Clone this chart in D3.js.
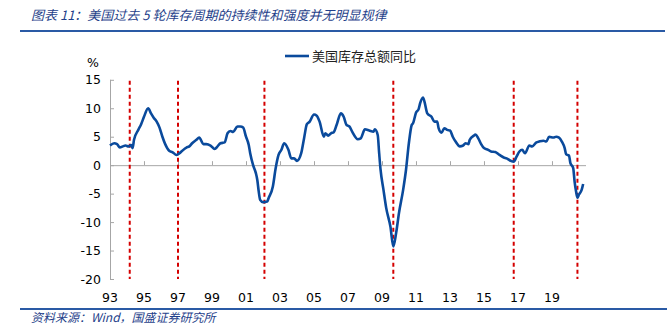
<!DOCTYPE html>
<html><head><meta charset="utf-8">
<script src="https://cdn.jsdelivr.net/npm/d3@7"></script>
<style>
html,body{margin:0;padding:0;background:#fff;}
svg{display:block;}
</style></head>
<body>
<svg id="c" width="671" height="331"></svg>
<script>
const titleText = "图表 11：美国过去 5 轮库存周期的持续性和强度并无明显规律";
const sourceText = "资料来源：Wind，国盛证券研究所";
const seriesName = "美国库存总额同比";
const yTicks = [15, 10, 5, 0, -5, -10, -15, -20];
const xTickYears = [1993, 1995, 1997, 1999, 2001, 2003, 2005, 2007, 2009, 2011, 2013, 2015, 2017, 2019];
const xTickLabels = ["93","95","97","99","01","03","05","07","09","11","13","15","17","19"];
const cycleMarks = ["1994-03","1997-01","2002-02","2009-09","2016-10","2020-07"];
const dates = [
"1993-01","1993-04","1993-06","1993-08","1993-10","1993-12","1994-02","1994-04","1994-05","1994-06","1994-09","1994-11",
"1995-01","1995-04","1995-06","1995-08","1995-10","1995-12","1996-02","1996-04","1996-07","1996-09","1996-12",
"1997-03","1997-07","1997-09","1997-11","1998-02","1998-04","1998-07","1998-09","1998-12",
"1999-03","1999-05","1999-07","1999-10","1999-12","2000-02","2000-04","2000-07","2000-09","2000-11",
"2001-01","2001-03","2001-04","2001-06","2001-08","2001-09","2001-10","2001-11","2002-01","2002-04","2002-05","2002-08","2002-10","2002-12",
"2003-02","2003-04","2003-07","2003-09","2003-11","2004-01","2004-04","2004-06","2004-08","2004-10",
"2005-01","2005-03","2005-05","2005-08","2005-09","2005-11","2006-01","2006-03","2006-05","2006-08","2006-10","2006-12",
"2007-02","2007-04","2007-08","2007-10","2008-01","2008-04","2008-07","2008-08","2008-10","2008-11","2008-12",
"2009-02","2009-04","2009-07","2009-09","2009-11","2010-01","2010-04","2010-06","2010-08","2010-10","2010-11",
"2011-01","2011-03","2011-04","2011-06","2011-07","2011-09","2011-12","2012-02","2012-04","2012-05","2012-07","2012-09","2012-11",
"2013-01","2013-03","2013-05","2013-08","2013-10","2013-12","2014-02","2014-03","2014-06","2014-07","2014-09","2014-11",
"2015-01","2015-04","2015-06","2015-09","2015-12","2016-03","2016-05","2016-08","2016-10","2016-12",
"2017-02","2017-04","2017-06","2017-09","2017-11","2018-02","2018-04","2018-07","2018-09","2018-11",
"2019-02","2019-04","2019-06","2019-08","2019-10","2019-11","2020-01","2020-02","2020-04","2020-05","2020-06","2020-07","2020-08","2020-10","2020-11"
];
const values = [
3.45,3.85,3.7,3.1,3.3,3.45,3.3,3.55,3.0,4.45,6.2,7.2,
8.5,10.0,9.1,8.3,7.65,6.6,5.0,3.7,2.5,2.3,1.8,
2.3,3.1,3.3,3.85,4.45,4.85,3.7,3.7,3.45,
2.85,3.3,3.85,4.0,5.6,6.0,5.85,6.8,6.8,6.6,
5.0,3.55,2.1,0.05,-1.4,-2.6,-4.6,-6.1,-6.5,-6.4,-5.8,-3.75,-0.5,1.8,
2.7,3.85,2.7,1.2,1.2,0.75,2.1,4.7,7.2,7.65,
8.9,8.7,7.65,5.0,5.6,5.2,5.6,5.8,7.05,9.1,8.5,7.05,
6.8,5.9,4.55,4.7,6.3,6.1,5.9,6.3,5.3,2.1,-0.8,
-4.3,-7.5,-10.8,-14.3,-11.9,-8.4,-4.3,-0.8,3.85,7.05,7.4,
9.2,9.9,10.9,11.9,11.2,9.1,8.5,7.65,7.65,6.5,5.7,6.5,6.2,
6.1,5.0,4.15,3.3,3.4,3.85,3.7,4.45,5.2,5.4,4.7,3.7,
3.0,2.7,2.4,2.3,1.8,1.35,1.2,0.75,0.6,1.5,
2.4,2.7,2.1,3.45,3.3,4.0,4.15,4.3,4.15,5.0,
4.85,5.0,4.85,4.15,3.0,1.9,1.7,0.35,-0.5,-2.9,-4.6,-5.7,-5.2,-4.3,-3.3
];

const parse = d3.timeParse("%Y-%m");
const data = dates.map((d, i) => ({ date: parse(d), value: values[i] }));

const svg = d3.select("#c");
const x = d3.scaleTime().domain([new Date(1993,0,1), new Date(2021,0,1)]).range([110, 586]);
const y = d3.scaleLinear().domain([-20, 15]).range([279, 79.8]);

// Title
svg.append("text").attr("x", 31).attr("y", 20)
  .attr("font-family", "Noto Sans CJK SC").attr("font-size", 13).attr("font-style", "italic")
  .attr("fill", "#1f3f8a").text(titleText);
svg.append("line").attr("x1", 20).attr("x2", 665).attr("y1", 31).attr("y2", 31)
  .attr("stroke", "#2a5aa5").attr("stroke-width", 2);

// Footer
svg.append("line").attr("x1", 20).attr("x2", 667).attr("y1", 309).attr("y2", 309)
  .attr("stroke", "#2a5aa5").attr("stroke-width", 2);
svg.append("text").attr("x", 31).attr("y", 322)
  .attr("font-family", "Noto Sans CJK SC").attr("font-size", 12).attr("font-style", "italic")
  .attr("fill", "#1f3f8a").text(sourceText);

// Y axis
const yAxis = d3.axisRight(y).tickValues(yTicks).tickSize(4).tickFormat("");
const gy = svg.append("g").attr("transform", "translate(110,0)").call(yAxis);
gy.select(".domain").attr("stroke", "#a6a6a6").attr("d", `M0.5,${y(15)}V${y(-20)}`);
gy.selectAll(".tick line").attr("stroke", "#a6a6a6");
svg.append("g").selectAll("text").data(yTicks).join("text")
  .attr("x", 101).attr("y", d => y(d)).attr("dy", "0.36em").attr("text-anchor", "end")
  .attr("font-family", "DejaVu Sans").attr("font-size", 12.5).attr("fill", "#000")
  .text(d => d);

// X axis at zero
const xAxis = d3.axisTop(x).tickValues(xTickYears.map(yr => new Date(yr,0,1))).tickSize(4).tickFormat("");
const gx = svg.append("g").attr("transform", `translate(0,${y(0)})`).call(xAxis);
gx.select(".domain").attr("stroke", "#a6a6a6").attr("d", `M110,0.5H586`);
gx.selectAll(".tick line").attr("stroke", "#a6a6a6");
svg.append("g").selectAll("text").data(xTickYears).join("text")
  .attr("x", d => x(new Date(d,0,1))).attr("y", 297).attr("dy", "0.36em").attr("text-anchor", "middle")
  .attr("font-family", "DejaVu Sans").attr("font-size", 12.5).attr("fill", "#000")
  .text((d, i) => xTickLabels[i]);

// % unit
svg.append("text").attr("x", 93).attr("y", 62).attr("dy", "0.36em").attr("text-anchor", "middle")
  .attr("font-family", "DejaVu Sans").attr("font-size", 12.5).text("%");

// Cycle marks
svg.append("g").selectAll("line").data(cycleMarks).join("line")
  .attr("x1", d => x(parse(d))).attr("x2", d => x(parse(d)))
  .attr("y1", y(15)+1).attr("y2", y(-20))
  .attr("stroke", "#d40000").attr("stroke-width", 2).attr("stroke-dasharray", "4,3");

// Series line
const line = d3.line().x(d => x(d.date)).y(d => y(d.value)).curve(d3.curveMonotoneX);
svg.append("path").datum(data).attr("d", line)
  .attr("fill", "none").attr("stroke", "#0a4a9c").attr("stroke-width", 2.6).attr("stroke-linejoin", "round");

// Legend
svg.append("line").attr("x1", 285).attr("x2", 309).attr("y1", 56).attr("y2", 56)
  .attr("stroke", "#0a4a9c").attr("stroke-width", 2.6);
svg.append("text").attr("x", 312).attr("y", 56).attr("dy", "0.36em")
  .attr("font-family", "Noto Sans CJK SC").attr("font-size", 13).attr("fill", "#222").text(seriesName);
</script>
</body></html>
